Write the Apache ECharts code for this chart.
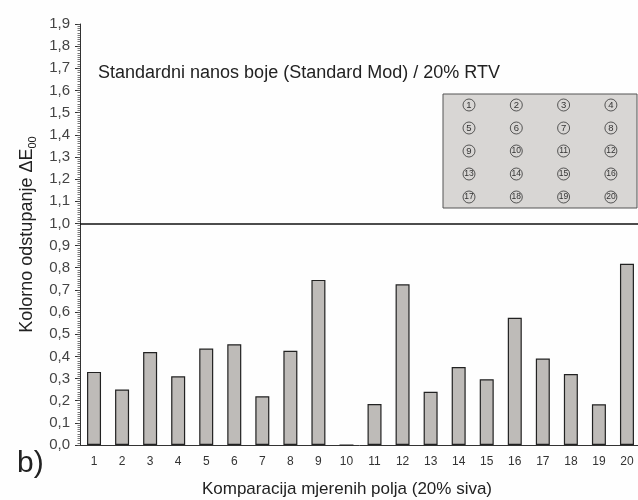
<!DOCTYPE html>
<html>
<head>
<meta charset="utf-8">
<script src="https://cdn.jsdelivr.net/npm/echarts@6/dist/echarts.min.js"></script>
<style>
  html, body { margin: 0; padding: 0; background: #fefefe; }
  #chart { width: 638px; height: 500px; }
</style>
</head>
<body>
<div id="chart"></div>
<script>
// podaci sa slike
var categories = ['1', '2', '3', '4', '5', '6', '7', '8', '9', '10',
	'11', '12', '13', '14', '15', '16', '17', '18', '19', '20'];
var deltaE = [0.33, 0.25, 0.42, 0.31, 0.435, 0.455, 0.22, 0.425, 0.745, 0,
	0.185, 0.725, 0.24, 0.352, 0.297, 0.574, 0.39, 0.32, 0.184, 0.818];
var yMin = 0, yMax = 1.9, yStep = 0.1, yMinorStep = 0.01;
var refLine = 1.0;
// raspored polja u umetku (4 stupca x 5 redova)
var insetFields = [
	['1', '2', '3', '4'],
	['5', '6', '7', '8'],
	['9', '10', '11', '12'],
	['13', '14', '15', '16'],
	['17', '18', '19', '20']
];

var font = 'Liberation Sans, Arial, sans-serif';
var chart = echarts.init(document.getElementById('chart'));

var graphics = [{
	type: 'text',
	left: 98,
	top: 64,
	style: {
		text: 'Standardni nanos boje (Standard Mod) / 20% RTV',
		fontSize: 18,
		fontFamily: font,
		fill: '#222'
	}
}, {
	type: 'text',
	left: 17,
	top: 449,
	style: {
		text: 'b)',
		fontSize: 30,
		fontFamily: font,
		fill: '#222'
	}
}, {
	type: 'rect',
	shape: { x: 443, y: 94, width: 194, height: 114 },
	style: { fill: '#d8d6d4', stroke: '#555', lineWidth: 1 },
	z: 10
}];

// kružići s brojevima u umetku
for (var r = 0; r < insetFields.length; r++) {
	for (var c = 0; c < insetFields[r].length; c++) {
		var cx = 469 + c * 47.3;
		var cy = 105 + r * 23;
		graphics.push({
			type: 'circle',
			shape: { cx: cx, cy: cy, r: 6 },
			style: { fill: 'none', stroke: '#333', lineWidth: 0.8 },
			z: 11
		});
		graphics.push({
			type: 'text',
			x: cx,
			y: cy,
			style: {
				text: insetFields[r][c],
				fontSize: insetFields[r][c].length > 1 ? 8.5 : 9.5,
				fontFamily: font,
				fill: '#333',
				align: 'center',
				verticalAlign: 'middle'
			},
			z: 11
		});
	}
}

var option = {
	backgroundColor: '#fefefe',
	animation: false,
	grid: {
		left: 80,
		top: 24,
		width: 561,
		bottom: 55,
		containLabel: false,
		outerBoundsMode: 'none'
	},
	xAxis: {
		type: 'category',
		data: categories,
		name: 'Komparacija mjerenih polja (20% siva)',
		nameLocation: 'middle',
		nameGap: 36,
		nameTextStyle: {
			fontSize: 17,
			fontFamily: font,
			color: '#222',
			padding: [0, 27, 0, 0]
		},
		axisLine: { lineStyle: { color: '#333', width: 1 } },
		axisTick: {
			alignWithLabel: true,
			length: 5,
			lineStyle: { color: '#333' }
		},
		axisLabel: {
			margin: 11,
			fontSize: 12,
			fontFamily: font,
			color: '#333'
		}
	},
	yAxis: [{
		type: 'value',
		min: yMin,
		max: yMax,
		interval: yStep,
		name: '{m|Kolorno odstupanje \u0394E}{s|00}',
		nameLocation: 'middle',
		nameGap: 40,
		nameTextStyle: {
			fontFamily: font,
			color: '#222',
			rich: {
				m: { fontSize: 18, fontFamily: font, color: '#222', lineHeight: 22 },
				s: { fontSize: 11, fontFamily: font, color: '#222', verticalAlign: 'bottom', lineHeight: 22 }
			}
		},
		axisLine: { show: true, lineStyle: { color: '#333', width: 1 } },
		axisTick: { show: true, length: 5, lineStyle: { color: '#333' } },
		splitLine: { show: false },
		axisLabel: {
			margin: 10,
			fontSize: 15,
			fontFamily: font,
			color: '#444',
			formatter: function(v) {
				return v.toFixed(1).replace('.', ',');
			}
		}
	}, {
		// sitne crtice (0,01)
		type: 'value',
		position: 'left',
		min: yMin,
		max: yMax,
		interval: yMinorStep,
		axisLine: { show: false },
		axisTick: { show: true, length: 2.5, lineStyle: { color: '#555', width: 0.8 } },
		axisLabel: { show: false },
		splitLine: { show: false }
	}],
	series: [{
		type: 'bar',
		data: deltaE,
		barWidth: 14,
		itemStyle: {
			color: '#bebbb8',
			borderColor: '#222',
			borderWidth: 1.2
		},
		markLine: {
			silent: true,
			symbol: 'none',
			label: { show: false },
			lineStyle: { color: '#111', width: 1.5, type: 'solid' },
			data: [{ yAxis: refLine }]
		}
	}],
	graphic: graphics
};

chart.setOption(option);
</script>
</body>
</html>
